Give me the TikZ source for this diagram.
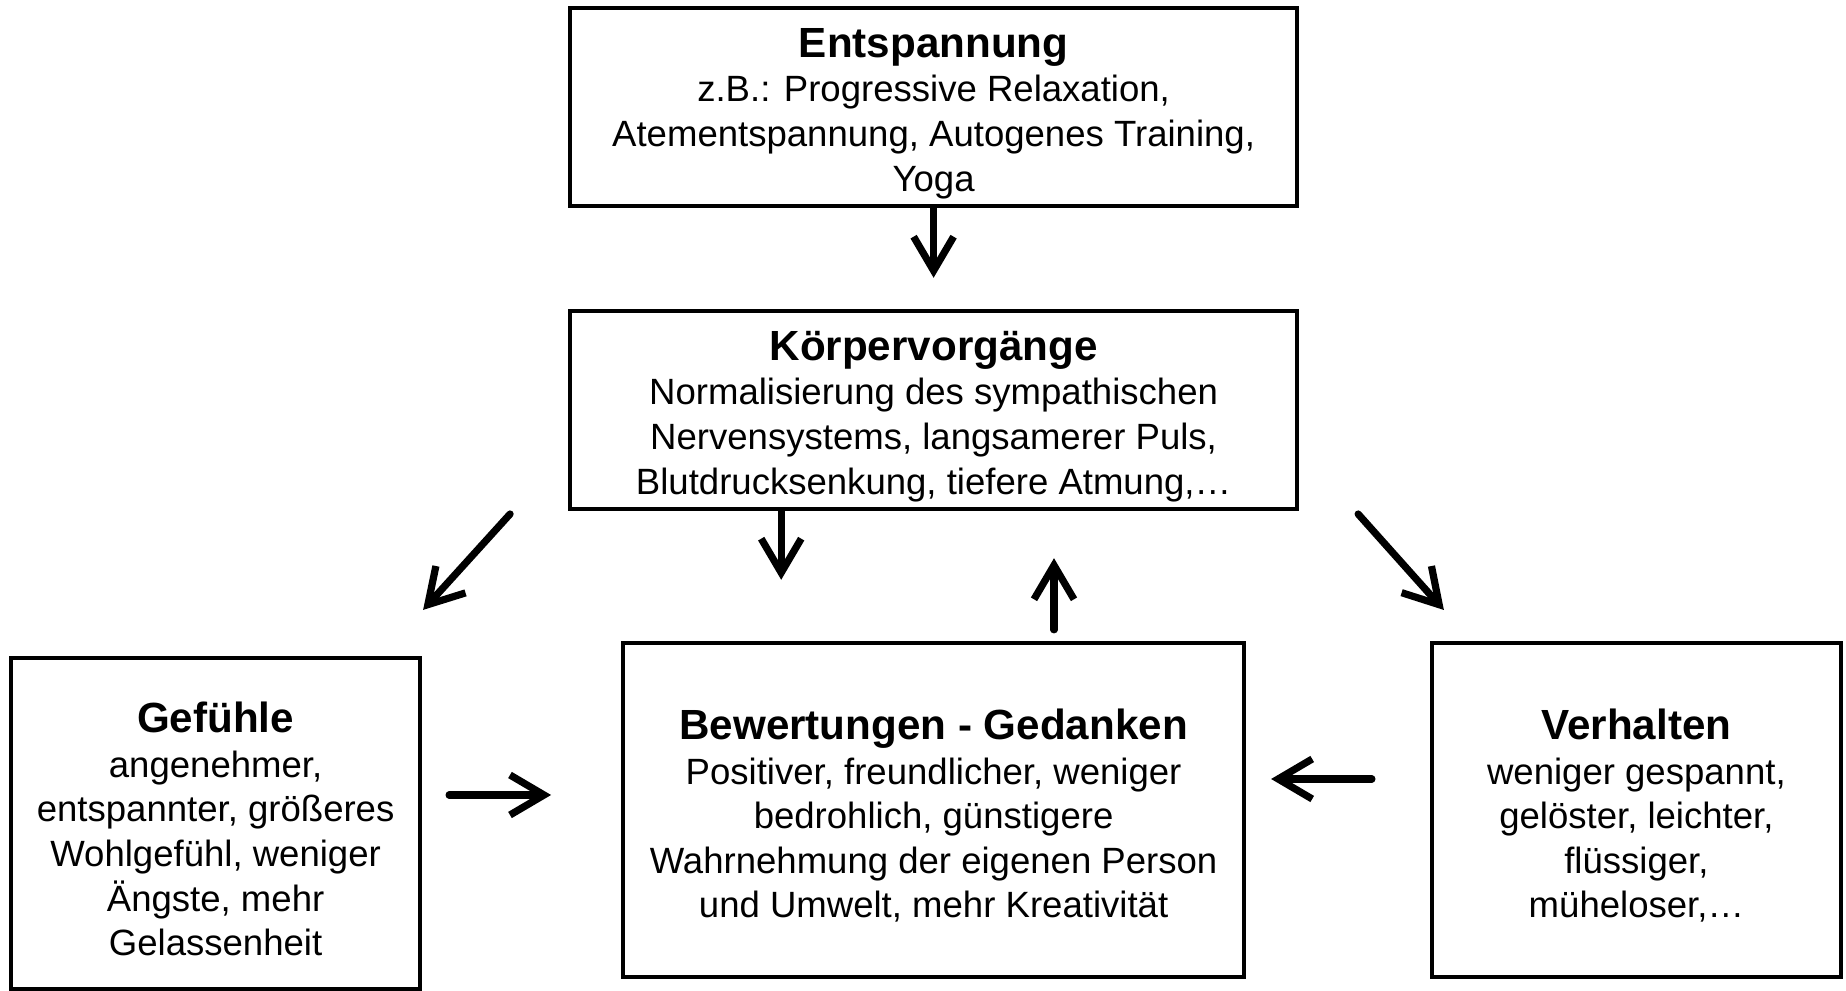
\documentclass[tikz,border=0pt]{standalone}
\usepackage{fontspec}
\setmainfont{Liberation Sans}
\usepackage{tikz}
\usetikzlibrary{arrows.meta}

\newcommand{\kopf}[1]{{\fontsize{30}{34}\selectfont\bfseries\rule{0pt}{1.05cm}#1}}

\begin{document}
\begin{tikzpicture}[
  kasten/.style={draw, line width=0.1cm, align=center, inner sep=0pt, font=\fontsize{26}{31.7}\selectfont},
  pfeil/.style={line width=0.18cm, line cap=round, -{Straight Barb[length=0.85cm, width=1.0cm]}}
]
\useasboundingbox (0,0) rectangle (46.15,24.775);
\node[kasten, minimum width=18.175cm, minimum height=4.95cm] (ent) at (23.34,22.10) {\kopf{Entspannung}\\ z.B.: Progressive Relaxation,\\ Atementspannung, Autogenes Training,\\ Yoga};
\node[kasten, minimum width=18.175cm, minimum height=4.95cm] (koerp) at (23.34,14.525) {\kopf{Körpervorgänge}\\ Normalisierung des sympathischen\\ Nervensystems, langsamerer Puls,\\ Blutdrucksenkung, tiefere Atmung,…};
\node[kasten, minimum width=10.225cm, minimum height=8.275cm] (gef) at (5.39,4.19) {\kopf{Gefühle}\\ angenehmer,\\ entspannter, größeres\\ Wohlgefühl, weniger\\ Ängste, mehr\\ Gelassenheit};
\node[kasten, minimum width=15.525cm, minimum height=8.35cm] (bew) at (23.34,4.525) {\kopf{Bewertungen - Gedanken}\\ Positiver, freundlicher, weniger\\ bedrohlich, günstigere\\ Wahrnehmung der eigenen Person\\ und Umwelt, mehr Kreativität};
\node[kasten, minimum width=10.225cm, minimum height=8.35cm] (verh) at (40.91,4.525) {\kopf{Verhalten}\\ weniger gespannt,\\ gelöster, leichter,\\ flüssiger,\\ müheloser,…};

\draw[pfeil, shorten >=0.78cm] (ent.south) -- (koerp.north);
\draw[pfeil, shorten >=1.53cm] ([xshift=-3.81cm]koerp.south) -- ([xshift=-3.81cm]bew.north);
\draw[pfeil, shorten <=0.28cm, shorten >=1.18cm] ([xshift=3.01cm]bew.north) -- ([xshift=3.01cm]koerp.south);
\draw[pfeil] ([shift={(-1.45cm,-0.075cm)}]koerp.south west) -- ([shift={(0.025cm,1.15cm)}]gef.north east);
\draw[pfeil] ([shift={(1.475cm,-0.075cm)}]koerp.south east) -- ([shift={(0.35cm,0.775cm)}]verh.north west);
\draw[pfeil, shorten <=0.675cm, shorten >=1.75cm] ([yshift=0.71cm]gef.east) -- ([yshift=0.71cm]gef.east -| bew.west);
\draw[pfeil, shorten <=1.45cm, shorten >=0.625cm] ([yshift=0.775cm]verh.west) -- ([yshift=0.775cm]verh.west -| bew.east);
\end{tikzpicture}
\end{document}
